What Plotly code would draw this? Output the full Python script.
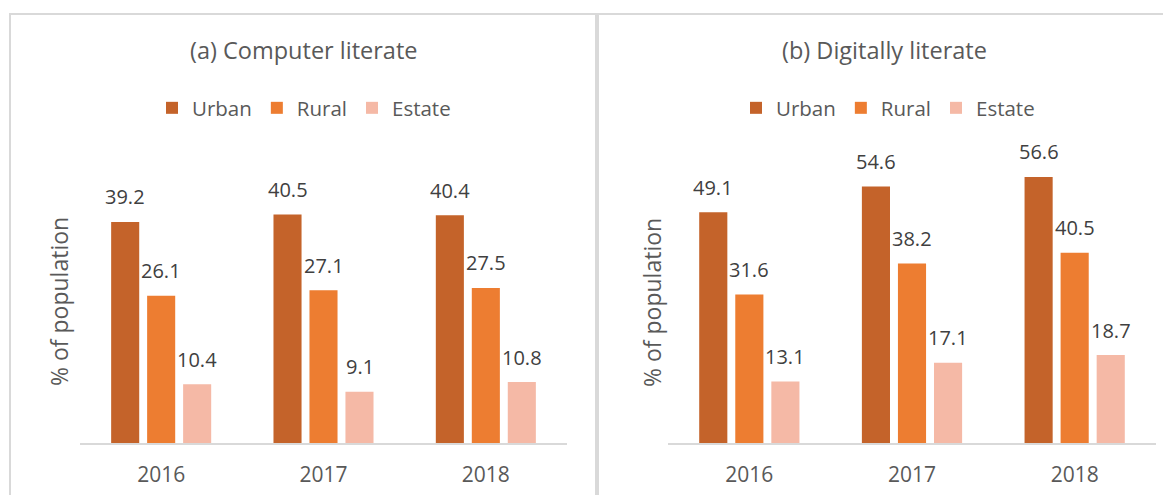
import plotly.graph_objects as go
from plotly.subplots import make_subplots

# ---- 数据 ----
years = ["2016", "2017", "2018"]
series_names = ["Urban", "Rural", "Estate"]
colors = ["#C4632A", "#ED7D31", "#F5B9A6"]

computer_literate = {
    "Urban": [39.2, 40.5, 40.4],
    "Rural": [26.1, 27.1, 27.5],
    "Estate": [10.4, 9.1, 10.8],
}
digitally_literate = {
    "Urban": [49.1, 54.6, 56.6],
    "Rural": [31.6, 38.2, 40.5],
    "Estate": [13.1, 17.1, 18.7],
}
panel_titles = ["(a) Computer literate", "(b) Digitally literate"]
y_title = "% of population"

W, H = 1171, 495
OFF = 8  # 页面 body 默认边距
FONT = "Open Sans"
TEXT = "#595959"
LABEL = "#404040"
GRID = "#D9D9D9"


def px_x(p):
    return (p - OFF) / W


def px_y(p):
    return 1 - (p - OFF) / H


fig = make_subplots(rows=1, cols=2)

panels = [
    (computer_literate, 1, "legend", 50),
    (digitally_literate, 2, "legend2", 60),
]

for data, col, leg, ymax in panels:
    xref = "x" if col == 1 else "x2"
    yref = "y" if col == 1 else "y2"
    for i, (name, color) in enumerate(zip(series_names, colors)):
        fig.add_trace(
            go.Bar(
                x=years, y=data[name], name=name,
                marker=dict(color=color, line=dict(width=0)),
                legend=leg, hoverinfo="skip",
            ),
            row=1, col=col,
        )
        # 数据标签 (类别轴上用索引定位)
        for j, v in enumerate(data[name]):
            fig.add_annotation(
                x=j, y=v, xref=xref, yref=yref,
                text=f"{v:.1f}", showarrow=False,
                xshift=(i - 1) * 36, yshift=25, yanchor="middle",
                font=dict(family=FONT, size=20, color=LABEL),
            )
    fig.update_yaxes(range=[0, ymax], visible=False, row=1, col=col)

fig.update_xaxes(
    type="category", range=[-0.5, 2.5], autorange=False,
    showline=True, linecolor=GRID, linewidth=1.5,
    ticks="", showgrid=False, automargin=False, ticklabelstandoff=12,
    tickfont=dict(family=FONT, size=21, color=TEXT),
)
fig.update_yaxes(showgrid=False, zeroline=False, automargin=False)

fig.update_layout(
    xaxis=dict(domain=[px_x(80), px_x(567)]),
    xaxis2=dict(domain=[px_x(668), px_x(1156)]),
    yaxis=dict(domain=[px_y(443), px_y(161)]),
    yaxis2=dict(domain=[px_y(443), px_y(161)]),
)

# ---- 面板边框 ----
fig.add_shape(type="rect", xref="paper", yref="paper",
              x0=px_x(10), x1=px_x(596), y0=-0.2, y1=px_y(14),
              line=dict(color=GRID, width=2), layer="below")
fig.add_shape(type="rect", xref="paper", yref="paper",
              x0=px_x(598), x1=1.05, y0=-0.2, y1=px_y(14),
              line=dict(color=GRID, width=2), layer="below")

# ---- 标题 & 轴标题 ----
for title, cx in zip(panel_titles, [303, 884]):
    fig.add_annotation(
        x=px_x(cx), y=px_y(50), xref="paper", yref="paper",
        text=title, showarrow=False, xanchor="center", yanchor="middle",
        font=dict(family=FONT, size=23.5, color=TEXT),
    )
for cx in [59, 652]:
    fig.add_annotation(
        x=px_x(cx), y=px_y(302), xref="paper", yref="paper",
        text=y_title, showarrow=False, textangle=-90,
        xanchor="center", yanchor="middle",
        font=dict(family=FONT, size=23, color=TEXT),
    )

legend_style = dict(
    orientation="h", xanchor="center", yanchor="middle",
    y=px_y(108), font=dict(family=FONT, size=20.5, color=TEXT),
    bgcolor="rgba(0,0,0,0)", itemclick=False, itemdoubleclick=False,
)

fig.update_layout(
    width=W, height=H,
    margin=dict(l=0, r=0, t=0, b=0, autoexpand=False),
    paper_bgcolor="white", plot_bgcolor="white",
    barmode="group", bargap=0.335, bargroupgap=0.22,
    legend=dict(x=px_x(304), **legend_style),
    legend2=dict(x=px_x(888), **legend_style),
    showlegend=True,
)

fig.write_html("out.html")
